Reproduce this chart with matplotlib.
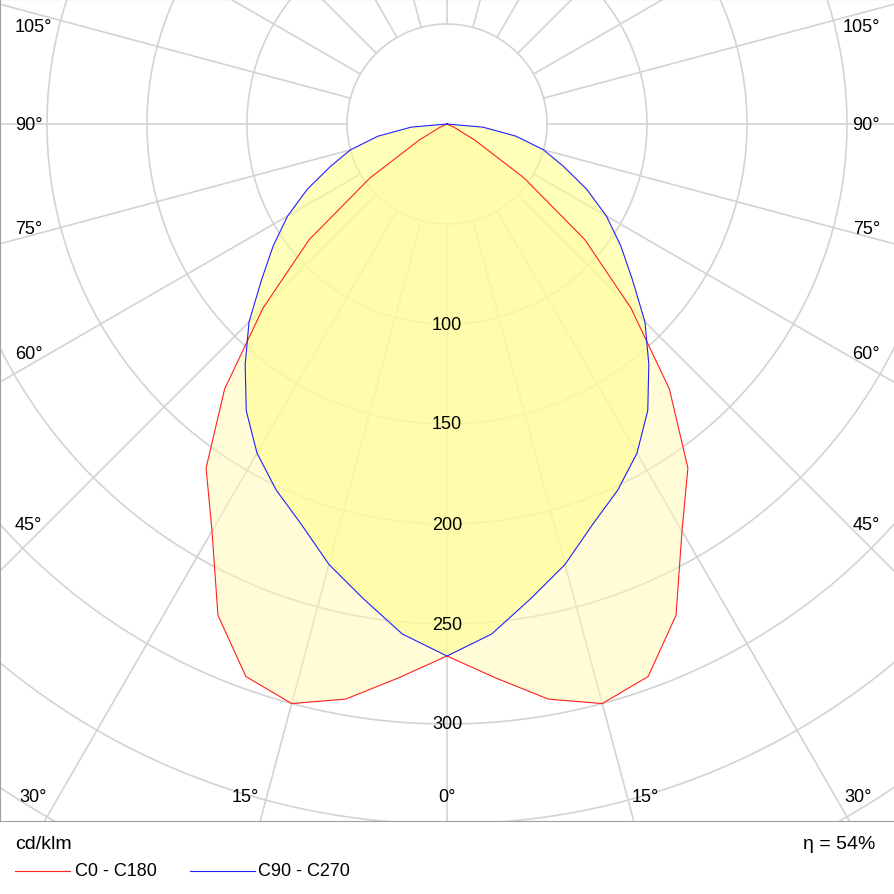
import numpy as np
import matplotlib
matplotlib.use("Agg")
import matplotlib.pyplot as plt

plt.rcParams["font.family"] = "Liberation Sans"

# intensity (cd/klm) vs angle from nadir
angles = [0, 5, 10, 15, 20, 25, 30, 35, 40, 45, 50, 55, 60, 65, 70, 75, 80, 85, 90]
c0_c180 = [266, 278, 292, 300, 294, 271, 235, 210, 173, 130, 90, 47, 16, 4, 0, 0, 0, 0, 0]
c90_c270 = [266, 256, 241, 228, 213, 202, 190, 175, 157, 140, 121, 106, 92, 77, 62, 50, 35, 18, 0]
ring_values = [100, 150, 200, 250, 300]
eta_text = "η = 54%"

W = H = 895
fig = plt.figure(figsize=(W / 100, H / 100), dpi=100)
plot_bottom = 822
cx, cy, scale = 447, 125, 2.0
ax = fig.add_axes([0, (H - plot_bottom) / H, 1, plot_bottom / H])
ax.set_xlim(-cx / scale, (W - cx) / scale)
ax.set_ylim(-(plot_bottom - cy) / scale, cy / scale)
ax.set_aspect("auto")
ax.set_xticks([]); ax.set_yticks([])
for s in ax.spines.values():
    s.set_color("#a0a0a0")

grid = "#d3d3d3"
t = np.linspace(0, 2 * np.pi, 400)
for r in range(50, 650, 50):
    ax.plot(r * np.cos(t), r * np.sin(t), color=grid, lw=1.2, zorder=1)
for a in range(0, 360, 15):
    ar = np.radians(a)
    ax.plot([50 * np.sin(ar), 700 * np.sin(ar)], [-50 * np.cos(ar), -700 * np.cos(ar)],
            color=grid, lw=1.2, zorder=1)


def curve(vals):
    th = np.radians(np.array(angles, float))
    v = np.array(vals, float)
    th = np.concatenate([-th[::-1], th[1:]])
    v = np.concatenate([v[::-1], v[1:]])
    return v * np.sin(th), -v * np.cos(th)


xr, yr = curve(c0_c180)
xb, yb = curve(c90_c270)
ax.fill(xr, yr, color="#fffbb0", alpha=0.5, lw=0, zorder=2)
ax.fill(xb, yb, color="#ffff90", alpha=0.6, lw=0, zorder=2)
ax.plot(xr, yr, color="#ff2020", lw=0.8, zorder=3)
ax.plot(xb, yb, color="#2020ff", lw=0.8, zorder=3)

for v in ring_values:
    ax.text(0, -v, str(v), ha="center", va="center", fontsize=13, zorder=4)

# angle labels along the frame (pixel positions)
def px(x, y, s, ha, size=13):
    fig.text(x / W, 1 - y / H, s, ha=ha, va="center", fontsize=size)

for deg, y in [(105, 27), (90, 125), (75, 230), (60, 355), (45, 525)]:
    px(15, y, f"{deg}°", "left")
    px(880, y, f"{deg}°", "right")
for x, s in [(33, "30°"), (245, "15°"), (447, "0°"), (645, "15°"), (858, "30°")]:
    px(x, 798, s, "center")

px(15, 845, "cd/klm", "left", 14)
px(875, 845, eta_text, "right", 14)
fig.add_artist(plt.Line2D([15 / W, 70 / W], [1 - 872 / H] * 2, color="#ff2020", lw=0.8))
px(75, 872, "C0 - C180", "left")
fig.add_artist(plt.Line2D([190 / W, 255 / W], [1 - 872 / H] * 2, color="#2020ff", lw=0.8))
px(258, 872, "C90 - C270", "left")

fig.savefig("out.png", dpi=100, facecolor="white")
